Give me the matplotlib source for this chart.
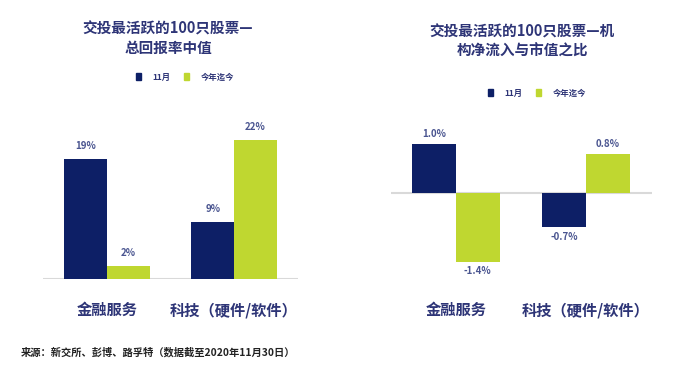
import matplotlib.pyplot as plt
import matplotlib.transforms as mtransforms
from matplotlib.patches import Patch

plt.rcParams['font.family'] = ['Noto Sans CJK SC', 'DejaVu Sans']
plt.rcParams['font.weight'] = 'bold'

# data
categories = ['金融服务', '科技（硬件/软件）']
series_names = ['11月', '今年迄今']
return_nov = [19, 9]
return_ytd = [2, 22]
flow_nov = [1.0, -0.7]
flow_ytd = [-1.4, 0.8]

title_left = '交投最活跃的100只股票—\n总回报率中值'
title_right = '交投最活跃的100只股票—机\n构净流入与市值之比'
source_text = '来源：新交所、彭博、路孚特（数据截至2020年11月30日）'

navy = '#0d1f66'
green = '#bfd730'
text_col = '#2e3577'
label_col = '#4a5590'

fig = plt.figure(figsize=(7, 3.74), dpi=100)
W, H = 700, 374


def box(x0, x1, ytop, ybot):
    return [x0 / W, 1 - ybot / H, (x1 - x0) / W, (ybot - ytop) / H]


def draw_panel(ax, nov, ytd, fmt, pad):
    x = list(range(len(categories)))
    w = 0.335
    b1 = ax.bar([i - w / 2 for i in x], nov, w, color=navy)
    b2 = ax.bar([i + w / 2 for i in x], ytd, w, color=green)
    for bars in (b1, b2):
        for r in bars:
            v = r.get_height()
            y = v + pad if v >= 0 else v - pad
            ax.text(r.get_x() + r.get_width() / 2, y, fmt.format(v),
                    ha='center', va='bottom' if v >= 0 else 'top',
                    fontsize=7, color=label_col, fontweight='bold')
    ax.axhline(0, color='#d9d9d9', lw=1.5, zorder=0)
    for s in ax.spines.values():
        s.set_visible(False)
    ax.set_xticks([])
    ax.set_yticks([])
    trans = mtransforms.blended_transform_factory(ax.transData, fig.transFigure)
    for i, c in enumerate(categories):
        ax.text(i, 1 - 310 / H, c, transform=trans, ha='center', va='center',
                fontsize=11, color=text_col, fontweight='bold')


# left panel: total return median
ax1 = fig.add_axes(box(43, 298, 100, 279))
draw_panel(ax1, return_nov, return_ytd, '{:.0f}%', 1.3)
ax1.set_xlim(-0.504, 1.504)
ax1.set_ylim(0, 179 / 6.3)
fig.text(168 / W, 1 - 38 / H, title_left, ha='center', va='center',
         fontsize=10.5, color=text_col, fontweight='bold', linespacing=1.25)

# right panel: institutional net flow / market cap
ax2 = fig.add_axes(box(391, 652, 110, 300))
draw_panel(ax2, flow_nov, flow_ytd, '{:.1f}%', 0.1)
ax2.set_xlim(-0.5, 1.508)
ax2.set_ylim(-(300 - 193) / 49, (193 - 110) / 49)
fig.text(522 / W, 1 - 41 / H, title_right, ha='center', va='center',
         fontsize=10.5, color=text_col, fontweight='bold', linespacing=1.25)

handles = [Patch(color=navy), Patch(color=green)]
for cx, cy in [(185, 77), (537, 93)]:
    fig.legend(handles, series_names, loc='center', ncol=2,
               bbox_to_anchor=(cx / W, 1 - cy / H), frameon=False,
               fontsize=6, handlelength=0.6, handleheight=0.9,
               handletextpad=1.4, columnspacing=1.6,
               labelcolor=text_col)

fig.text(21 / W, 1 - 352 / H, source_text, ha='left', va='center',
         fontsize=7.4, color='#222222', fontweight='bold')

fig.savefig('out.png', dpi=100, facecolor='white')
